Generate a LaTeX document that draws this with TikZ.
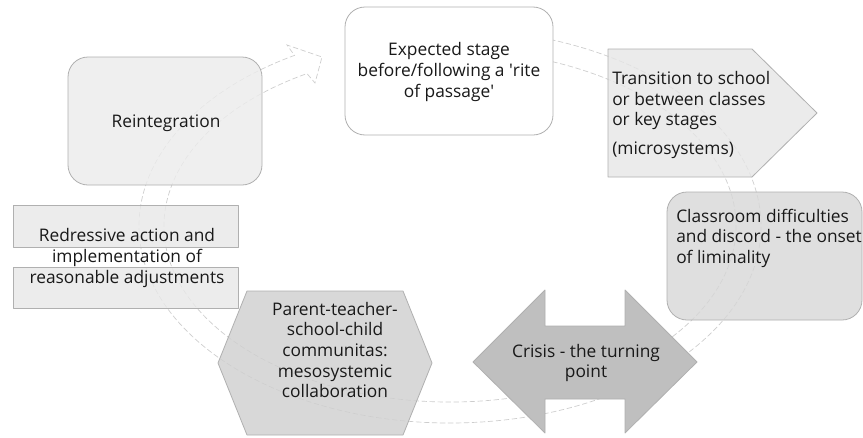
\documentclass[tikz,border=0pt]{standalone}
\usepackage{fontspec}
\setmainfont{Open Sans}
\definecolor{edgegray}{RGB}{176,176,176}
\definecolor{ringgray}{RGB}{205,205,205}
\definecolor{inkgray}{RGB}{25,25,25}
\definecolor{reintfill}{RGB}{236,236,236}
\definecolor{transfill}{RGB}{230,230,230}
\definecolor{classfill}{RGB}{215,215,215}
\definecolor{hexfill}{RGB}{207,207,207}
\definecolor{redressfill}{RGB}{232,232,232}
\definecolor{crisisfill}{RGB}{191,191,191}
\begin{document}
\begin{tikzpicture}[x=0.75pt,y=0.75pt,
  ring/.style={ringgray,line width=0.5pt,dash pattern=on 4pt off 2pt},
  stage/.style={draw=edgegray,line width=0.6pt,fill opacity=0.8,line join=round},
  label/.style={text=inkgray,font=\fontsize{13}{15.4}\selectfont,inner sep=0pt}]
	\useasboundingbox (0,0) rectangle (863,437);
	\fill[white] (0,0) rectangle (863,437);
	\coordinate (ctr) at (450,211);
	\draw[ring] ([shift={(95:311 and 197)}]ctr) arc[start angle=95,end angle=-240,x radius=311,y radius=197]
		-- (287,392) -- (322,380) -- (315,354)
		-- ([shift={(120:286 and 176)}]ctr) arc[start angle=-240,end angle=95,x radius=286,y radius=176] -- cycle;
	\draw[stage,fill=white,fill opacity=1,rounded corners=15pt] (345,302) rectangle (553,430);
	\draw[stage,fill=reintfill,rounded corners=15pt] (68,252) rectangle (262,380);
	\draw[stage,fill=transfill] (608,388) -- (752,388) -- (817,324) -- (752,260) -- (608,260) -- cycle;
	\draw[stage,fill=classfill,rounded corners=15pt] (667,117) rectangle (862,245);
	\draw[stage,fill=crisisfill,fill opacity=1] (473,75) -- (545,147) -- (545,111) -- (625,111) -- (625,147) -- (697,75)
		-- (625,4) -- (625,38) -- (545,38) -- (545,4) -- cycle;
	\draw[stage,fill=hexfill] (218,74) -- (247,146) -- (403,146) -- (432,74) -- (403,2) -- (247,2) -- cycle;
	\draw[stage,fill=redressfill] (13,190) rectangle (238,232);
	\draw[stage,fill=redressfill] (13,129) rectangle (238,170);
	\node[label,align=center] (expected) at (449,365) {Expected stage\\before/following a \textquotesingle rite\\of passage\textquotesingle};
	\node[label] (reint) at (166,314) {Reintegration};
	\node[label,anchor=west,align=left] (trans) at (612,322) {Transition to school\\or between classes\\or key stages\\[6pt](microsystems)};
	\node[label,anchor=west,align=left] (class) at (676,199) {Classroom difficulties\\and discord - the onset\\of liminality};
	\node[label,align=center] (crisis) at (586,74) {Crisis - the turning\\point};
	\node[label,align=center] (hex) at (335,87) {Parent-teacher-\\school-child\\communitas:\\mesosystemic\\collaboration};
	\node[label,align=center] (redress) at (127,179) {Redressive action and\\implementation of\\reasonable adjustments};
\end{tikzpicture}
\end{document}
